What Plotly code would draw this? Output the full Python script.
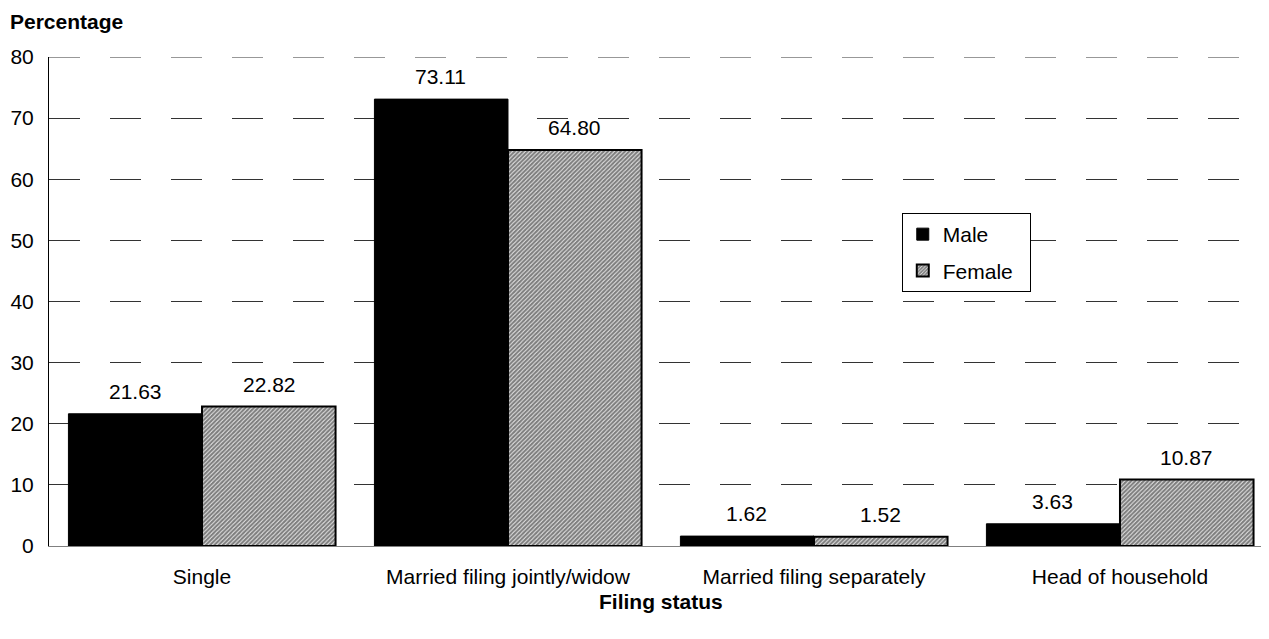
"""
Filing status by sex
====================
Grouped bar chart of filing status percentages, male vs female.
"""

import plotly.graph_objects as go

# Data
CATEGORIES = ["Single", "Married filing jointly/widow",
              "Married filing separately", "Head of household"]
MALE = [21.63, 73.11, 1.62, 3.63]
FEMALE = [22.82, 64.80, 1.52, 10.87]
Y_TICKS = [0, 10, 20, 30, 40, 50, 60, 70, 80]

FONT = "Liberation Sans, Arial, sans-serif"
FONT_SIZE = 21
GRID_DASH = "31px,30px"

# the page body has an 8px margin, so the figure is drawn 8px in
PAGE_PAD = 8


def create_chart() -> go.Figure:
    fig = go.Figure()

    fig.add_trace(go.Bar(
        x=CATEGORIES, y=MALE, name="Male",
        marker=dict(color="#000000", line=dict(color="#000000", width=1)),
        legendgroup="m",
    ))
    fig.add_trace(go.Bar(
        x=CATEGORIES, y=FEMALE, name="Female\u00a0\u00a0",
        marker=dict(
            color="#ffffff",
            line=dict(color="#000000", width=2),
            pattern=dict(shape="/", fgcolor="#000000", bgcolor="#ffffff",
                         size=3, solidity=0.75),
        ),
        legendgroup="f",
    ))

    # value labels above each bar
    for series, shift in ((MALE, -67), (FEMALE, 67)):
        for cat, val in zip(CATEGORIES, series):
            fig.add_annotation(
                x=cat, y=val, text=f"{val:.2f}", showarrow=False,
                xshift=shift, yshift=9, yanchor="bottom",
                font=dict(family=FONT, size=FONT_SIZE, color="#000000"),
            )

    fig.add_annotation(
        x=0, y=1, xref="paper", yref="paper", xshift=-41, yshift=22,
        text="<b>Percentage</b>", showarrow=False,
        xanchor="left", yanchor="bottom",
        font=dict(family=FONT, size=FONT_SIZE, color="#000000"),
    )
    fig.add_annotation(
        x=1.5, y=-0.1145, xref="x", yref="paper",
        text="<b>Filing status</b>", showarrow=False,
        xanchor="center", yanchor="middle",
        font=dict(family=FONT, size=FONT_SIZE, color="#000000"),
    )

    # top gridline (plotly skips grid lines on the plot edge)
    fig.add_hline(y=Y_TICKS[-1], line=dict(color="#333333", width=1, dash=GRID_DASH))

    fig.update_layout(
        width=1269 - PAGE_PAD, height=639 - PAGE_PAD,
        margin=dict(l=49 - PAGE_PAD, r=0, t=57 - PAGE_PAD, b=93, autoexpand=False),
        barmode="group", bargap=0.127, bargroupgap=0,
        plot_bgcolor="#ffffff", paper_bgcolor="#ffffff",
        font=dict(family=FONT, size=FONT_SIZE, color="#000000"),
        showlegend=True,
        legend=dict(
            x=0.699, y=0.681, xanchor="left", yanchor="top",
            bordercolor="#000000", borderwidth=1, bgcolor="#ffffff",
            traceorder="grouped", tracegroupgap=6,
            font=dict(family=FONT, size=FONT_SIZE, color="#000000"),
        ),
        xaxis=dict(
            range=[-0.5, 3.487], showgrid=False, ticks="",
            showline=True, linecolor="#808080", linewidth=1,
            ticklabelstandoff=12, automargin=False,
        ),
        yaxis=dict(
            range=[0, 80], tickvals=Y_TICKS, ticks="",
            showgrid=True, gridcolor="#333333", gridwidth=1,
            griddash=GRID_DASH, zeroline=False,
            showline=True, linecolor="#000000", linewidth=1,
            ticklabelstandoff=10, automargin=False,
        ),
    )
    return fig


if __name__ == "__main__":
    fig = create_chart()
    fig.write_html("out.html")
